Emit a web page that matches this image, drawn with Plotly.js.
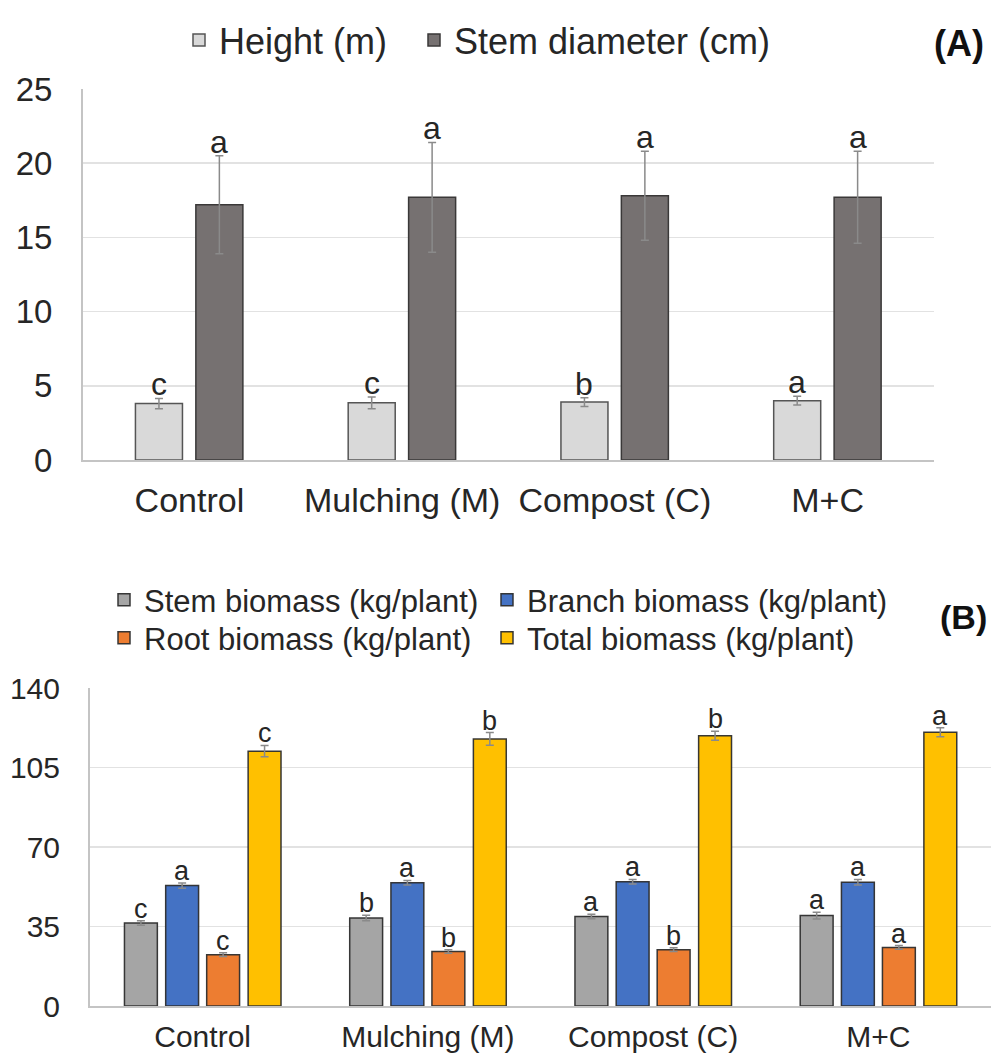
<!DOCTYPE html>
<html>
<head>
<meta charset="utf-8">
<script src="https://cdn.plot.ly/plotly-3.0.1.min.js"></script>
<style>html,body{margin:0;padding:0;background:#fff;}#chart{width:991px;height:1058px;}</style>
</head>
<body>
<div id="chart"></div>
<script>
// ---------- data ----------
const categories = ['Control', 'Mulching (M)', 'Compost (C)', 'M+C'];

// Panel A
const heightVals = [3.8, 3.85, 3.9, 4.0];
const heightErr = [0.35, 0.4, 0.3, 0.3];
const heightLetters = ['c', 'c', 'b', 'a'];
const diamVals = [17.2, 17.7, 17.8, 17.7];
const diamErr = [3.3, 3.7, 3.0, 3.1];
const diamLetters = ['a', 'a', 'a', 'a'];
const yTicksA = [0, 5, 10, 15, 20, 25];

// Panel B
const stemVals = [36.5, 38.7, 39.4, 39.8];
const stemErr = [1.0, 1.2, 1.0, 1.5];
const stemLetters = ['c', 'b', 'a', 'a'];
const branchVals = [53.0, 54.3, 54.7, 54.5];
const branchErr = [1.2, 1.0, 1.0, 1.2];
const branchLetters = ['a', 'a', 'a', 'a'];
const rootVals = [22.6, 24.0, 24.8, 25.8];
const rootErr = [0.8, 0.8, 0.8, 0.8];
const rootLetters = ['c', 'b', 'b', 'a'];
const totalVals = [112.2, 117.6, 119.0, 120.5];
const totalErr = [2.5, 2.8, 2.0, 2.0];
const totalLetters = ['c', 'b', 'b', 'a'];
const yTicksB = [0, 35, 70, 105, 140];

// ---------- style ----------
const FONT = 'Liberation Sans, Arial, sans-serif';
const TXT = '#262626';
const W = 991, H = 1058;
const edge = 'rgba(45,45,45,0.95)';
const errStyle = {type: 'data', visible: true, color: '#8a8a8a', thickness: 1.5, width: 4};

// bar geometry (category units)
const wA = 0.221, cA = [-0.143, 0.141];
const wB = 0.146, cB = [-0.274, -0.091, 0.091, 0.275];

function barTrace(name, vals, errs, color, xa, ya, w, c, legend, lineColor) {
  return {
    type: 'bar', name: name, x: categories, y: vals,
    xaxis: xa, yaxis: ya, width: w, offset: c - w / 2,
    marker: {color: color, line: {color: lineColor || edge, width: 1.5}},
    error_y: Object.assign({array: errs}, errStyle),
    legend: legend, hoverinfo: 'skip'
  };
}

const traces = [
  barTrace('Height (m)', heightVals, heightErr, '#d9d9d9', 'x', 'y', wA, cA[0], 'legend', '#555'),
  barTrace('Stem diameter (cm)', diamVals, diamErr, '#767171', 'x', 'y', wA, cA[1], 'legend2', '#3a3838'),
  barTrace('Stem biomass (kg/plant)', stemVals, stemErr, '#a5a5a5', 'x2', 'y2', wB, cB[0], 'legend3'),
  barTrace('Branch biomass (kg/plant)', branchVals, branchErr, '#4472c4', 'x2', 'y2', wB, cB[1], 'legend4'),
  barTrace('Root biomass (kg/plant)', rootVals, rootErr, '#ed7d31', 'x2', 'y2', wB, cB[2], 'legend5'),
  barTrace('Total biomass (kg/plant)', totalVals, totalErr, '#ffc000', 'x2', 'y2', wB, cB[3], 'legend6')
];

// letters
const annotations = [];
function addLetters(letters, vals, errs, off, xr, yr, size, shift) {
  letters.forEach((t, i) => {
    annotations.push({
      xref: xr, yref: yr, x: i + off, y: vals[i] + errs[i], text: t,
      showarrow: false, xanchor: 'center', yanchor: 'bottom', yshift: shift,
      font: {family: FONT, size: size, color: TXT}
    });
  });
}
addLetters(heightLetters, heightVals, heightErr, cA[0], 'x', 'y', 32, -6);
addLetters(diamLetters, diamVals, diamErr, cA[1], 'x', 'y', 32, -6);
addLetters(stemLetters, stemVals, stemErr, cB[0], 'x2', 'y2', 27, -5);
addLetters(branchLetters, branchVals, branchErr, cB[1], 'x2', 'y2', 27, -5);
addLetters(rootLetters, rootVals, rootErr, cB[2], 'x2', 'y2', 27, -5);
addLetters(totalLetters, totalVals, totalErr, cB[3], 'x2', 'y2', 27, -5);

annotations.push({xref: 'paper', yref: 'paper', x: 986 / W, y: 1 - 44 / H, xanchor: 'right', yanchor: 'middle',
  text: '<b>(A)</b>', showarrow: false, font: {family: FONT, size: 36, color: '#111'}});
annotations.push({xref: 'paper', yref: 'paper', x: 989 / W, y: 1 - 617 / H, xanchor: 'right', yanchor: 'middle',
  text: '<b>(B)</b>', showarrow: false, font: {family: FONT, size: 34, color: '#111'}});

function yaxis(domain, range, ticks, size) {
  return {
    domain: domain, range: range, tickvals: ticks, ticktext: ticks.map(String),
    showgrid: true, gridcolor: '#e2e2e2', gridwidth: 1.5,
    showline: true, linecolor: '#c4c4c4', linewidth: 2,
    zeroline: false, ticks: '', ticklabelstandoff: 22,
    tickfont: {family: FONT, size: size, color: TXT}, fixedrange: true
  };
}
function xaxis(domain, anchor, size, standoff) {
  return {
    domain: domain, anchor: anchor, type: 'category', range: [-0.5, 3.5],
    showline: true, linecolor: '#c4c4c4', linewidth: 2, showgrid: false,
    ticks: '', ticklabelstandoff: standoff,
    tickfont: {family: FONT, size: size, color: TXT}, fixedrange: true
  };
}
function leg(xText, yc, size) {
  return {orientation: 'h', x: (xText - 41) / W, xanchor: 'left', y: 1 - yc / H, yanchor: 'middle',
    font: {family: FONT, size: size, color: TXT}, bgcolor: 'rgba(0,0,0,0)', itemwidth: 30};
}

const layout = {
  width: W, height: H,
  margin: {l: 0, r: 0, t: 0, b: 0},
  paper_bgcolor: '#fff', plot_bgcolor: '#fff',
  font: {family: FONT, color: TXT},
  barmode: 'group',
  xaxis: xaxis([83 / W, 934 / W], 'y', 34, 9),
  yaxis: yaxis([1 - 460 / H, 1 - 89 / H], [0, 25], yTicksA, 33),
  xaxis2: xaxis([90 / W, 1], 'y2', 30, 3),
  yaxis2: Object.assign(yaxis([1 - 1006 / H, 1 - 688 / H], [0, 140], yTicksB, 30), {anchor: 'x2'}),
  legend: leg(220, 40, 36),
  legend2: leg(455, 40, 36),
  legend3: leg(145, 600, 31),
  legend4: leg(528, 600, 31),
  legend5: leg(145, 638, 31),
  legend6: leg(528, 638, 31),
  annotations: annotations,
  showlegend: true
};

Plotly.newPlot('chart', traces, layout, {displayModeBar: false, staticPlot: true});
</script>
</body>
</html>
